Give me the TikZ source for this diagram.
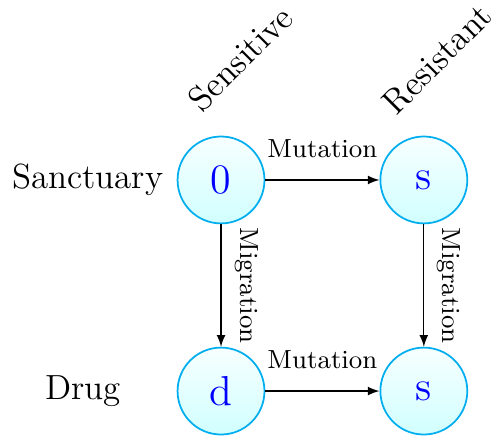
\documentclass[tikz,border=0pt]{standalone}
\usepackage{amsmath}
\usepackage{tikz}
\usetikzlibrary{arrows,automata,positioning}
\definecolor{statecyan}{RGB}{0,174,239}

\begin{document}
\begin{tikzpicture}[->,>=latex,auto,
  every state/.style={draw=statecyan,semithick,top color=cyan!3,bottom color=cyan!18,text=blue,font=\Large,minimum size=1.05cm,inner sep=0pt},
  edge label/.style={font=\small}]
\useasboundingbox (-2.67,-3.153) rectangle (3.358,2.174);
\node[state] (sens sanct) {0};
\node[state, node distance=2.45cm] (res sanct) [right of=sens sanct] {s};
\node[state, node distance=2.55cm] (sens drug) [below of=sens sanct] {d};
\node[state, node distance=2.55cm] (res drug) [below of=res sanct] {s};

% row and column headers
\node[font=\large, node distance=1.61cm] (sanctuary) [left of=sens sanct] {Sanctuary};
\node[font=\large, node distance=1.67cm] (drug) [left of=sens drug] {Drug};
\node[font=\large, node distance=1.47cm] (sensitive) [above of=sens sanct, xshift=0.23cm, rotate=45] {Sensitive};
\node[font=\large, node distance=1.46cm] (resistant) [above of=res sanct, xshift=0.16cm, rotate=45] {Resistant};

\path (sens sanct) 	edge	node[edge label, above=4pt]	{Mutation} (res sanct)
					edge	node[edge label, midway, rotate=-90, anchor=south, inner sep=4.5pt]	{Migration} (sens drug)
	(res sanct)		edge	node[edge label, midway, rotate=-90, anchor=south, inner sep=4.5pt]	{Migration} (res drug)
	(sens drug)		edge	node[edge label, above=4pt]	{Mutation} (res drug)
	;

\end{tikzpicture}
\end{document}
